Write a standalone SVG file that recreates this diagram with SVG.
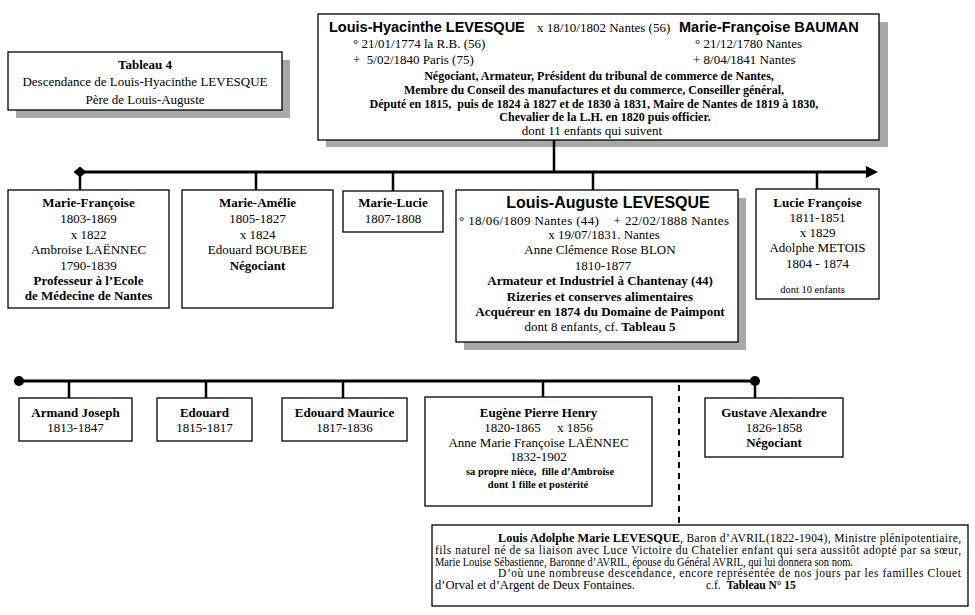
<svg xmlns="http://www.w3.org/2000/svg" width="975" height="615" viewBox="0 0 975 615">
<style>
.box{fill:#fff;stroke:#000;stroke-width:1.3}
.sh{fill:#a8a8a8}
.t{font-family:"Liberation Serif","Times New Roman",serif;font-size:13px;fill:#000;text-anchor:middle}
.l{text-anchor:start}
.b{font-weight:bold}
.m{font-size:12px}
.s{font-size:11.5px}
.xs{font-size:10.5px}
.a{font-family:"Liberation Sans",Arial,sans-serif;font-weight:bold;font-size:14.5px;fill:#000}
.ln{stroke:#000;stroke-width:3;fill:none}
.vl{stroke:#000;stroke-width:2.5;fill:none}
</style>
<rect width="975" height="615" fill="#fff"/>

<g id="title">
<rect class="sh" x="16" y="60" width="274" height="58"/>
<rect class="box" x="8" y="52" width="274" height="58"/>
<text class="t b" x="145" y="69">Tableau 4</text>
<text class="t" x="145" y="86">Descendance de Louis-Hyacinthe LEVESQUE</text>
<text class="t" x="145" y="104">Père de Louis-Auguste</text>
</g>

<g id="parents">
<rect class="sh" x="326" y="22" width="562" height="125"/>
<rect class="box" x="318" y="14" width="561" height="126"/>
<text class="a" x="329" y="32">Louis-Hyacinthe LEVESQUE</text>
<text class="t l" x="537" y="32">x 18/10/1802 Nantes (56)</text>
<text class="a" x="679" y="32">Marie-Françoise BAUMAN</text>
<text class="t l" x="353" y="48">° 21/01/1774 la R.B. (56)</text>
<text class="t l" x="695" y="48">° 21/12/1780 Nantes</text>
<text class="t l" x="353" y="64" xml:space="preserve">+  5/02/1840 Paris (75)</text>
<text class="t l" x="693" y="64">+ 8/04/1841 Nantes</text>
<text class="t b m" x="599" y="80">Négociant, Armateur, Président du tribunal de commerce de Nantes,</text>
<text class="t b m" x="594" y="94">Membre du Conseil des manufactures et du commerce, Conseiller général,</text>
<text class="t b m" x="594" y="108" xml:space="preserve">Député en 1815,  puis de 1824 à 1827 et de 1830 à 1831, Maire de Nantes de 1819 à 1830,</text>
<text class="t b m" x="605" y="121">Chevalier de la L.H. en 1820 puis officier.</text>
<text class="t" x="592" y="135">dont 11 enfants qui suivent</text>
</g>

<g id="connectors">
<line class="ln" x1="80" y1="172" x2="868" y2="172"/>
<polygon points="80,166.5 86.5,172 80,177.5 73.5,172" fill="#000"/>
<polygon points="866,166 878,172 866,178" fill="#000"/>
<line class="vl" x1="554" y1="140" x2="554" y2="172"/>
<line class="vl" x1="80" y1="172" x2="80" y2="190"/>
<line class="vl" x1="256" y1="172" x2="256" y2="190"/>
<line class="vl" x1="393" y1="172" x2="393" y2="191"/>
<line class="vl" x1="593" y1="172" x2="593" y2="190"/>
<line class="vl" x1="817" y1="172" x2="817" y2="189"/>
<line class="ln" x1="19" y1="381" x2="755" y2="381"/>
<circle cx="19" cy="381" r="5" fill="#000"/>
<circle cx="755" cy="381" r="5" fill="#000"/>
<line class="vl" x1="69" y1="381" x2="69" y2="398"/>
<line class="vl" x1="206" y1="381" x2="206" y2="398"/>
<line class="vl" x1="343" y1="381" x2="343" y2="398"/>
<line class="vl" x1="543" y1="381" x2="543" y2="397"/>
<line class="vl" x1="755" y1="381" x2="755" y2="398"/>
<line x1="679" y1="385" x2="679" y2="525" stroke="#000" stroke-width="2" stroke-dasharray="6,5"/>
</g>

<g id="marie-francoise">
<rect class="box" x="8" y="190" width="161" height="118"/>
<text class="t b" x="88.5" y="207">Marie-Françoise</text>
<text class="t" x="88.5" y="223">1803-1869</text>
<text class="t" x="88.5" y="239">x 1822</text>
<text class="t" x="88.5" y="254">Ambroise LAËNNEC</text>
<text class="t" x="88.5" y="270">1790-1839</text>
<text class="t b" x="88.5" y="285">Professeur à l’Ecole</text>
<text class="t b" x="88.5" y="300">de Médecine de Nantes</text>
</g>

<g id="marie-amelie">
<rect class="box" x="182" y="190" width="151" height="118"/>
<text class="t b" x="257.5" y="207">Marie-Amélie</text>
<text class="t" x="257.5" y="223">1805-1827</text>
<text class="t" x="257.5" y="239">x 1824</text>
<text class="t" x="257.5" y="254">Edouard BOUBEE</text>
<text class="t b" x="257.5" y="270">Négociant</text>
</g>

<g id="marie-lucie">
<rect class="box" x="343" y="191" width="100" height="41"/>
<text class="t b" x="393" y="207">Marie-Lucie</text>
<text class="t" x="393" y="223">1807-1808</text>
</g>

<g id="louis-auguste">
<rect class="sh" x="464" y="198" width="282" height="152"/>
<rect class="box" x="456" y="190" width="282" height="152"/>
<text class="a" x="608" y="208" text-anchor="middle" style="font-size:16px">Louis-Auguste LEVESQUE</text>
<text class="t" x="594" y="225" xml:space="preserve" textLength="270" lengthAdjust="spacing">° 18/06/1809 Nantes (44)    + 22/02/1888 Nantes</text>
<text class="t" x="604" y="239">x 19/07/1831. Nantes</text>
<text class="t" x="600" y="254">Anne Clémence Rose BLON</text>
<text class="t" x="603" y="270">1810-1877</text>
<text class="t b" x="600" y="285">Armateur et Industriel à Chantenay (44)</text>
<text class="t b" x="600" y="301">Rizeries et conserves alimentaires</text>
<text class="t b" x="600" y="316">Acquéreur en 1874 du Domaine de Paimpont</text>
<text class="t" x="600" y="331">dont 8 enfants, cf. <tspan class="b">Tableau 5</tspan></text>
</g>

<g id="lucie-francoise">
<rect class="box" x="756" y="189" width="123" height="110"/>
<text class="t b" x="817.5" y="207">Lucie Françoise</text>
<text class="t" x="817.5" y="222">1811-1851</text>
<text class="t" x="817.5" y="237">x 1829</text>
<text class="t" x="817.5" y="252">Adolphe METOIS</text>
<text class="t" x="817.5" y="268">1804 - 1874</text>
<text class="t" x="812.5" y="293" style="font-size:10.5px">dont 10 enfants</text>
</g>

<g id="armand-joseph">
<rect class="box" x="19" y="398" width="113" height="43"/>
<text class="t b" x="75.5" y="417">Armand Joseph</text>
<text class="t" x="75.5" y="432">1813-1847</text>
</g>

<g id="edouard">
<rect class="box" x="157" y="398" width="95" height="43"/>
<text class="t b" x="204.5" y="417">Edouard</text>
<text class="t" x="204.5" y="432">1815-1817</text>
</g>

<g id="edouard-maurice">
<rect class="box" x="282" y="398" width="125" height="43"/>
<text class="t b" x="344.5" y="417">Edouard Maurice</text>
<text class="t" x="344.5" y="432">1817-1836</text>
</g>

<g id="eugene">
<rect class="box" x="425" y="397" width="227" height="109"/>
<text class="t b" x="538.5" y="417">Eugène Pierre Henry</text>
<text class="t" x="538.5" y="432" xml:space="preserve">1820-1865     x 1856</text>
<text class="t" x="538.5" y="447">Anne Marie Françoise LAËNNEC</text>
<text class="t" x="538.5" y="461">1832-1902</text>
<text class="t b xs" x="540" y="475" xml:space="preserve">sa propre nièce,  fille d’Ambroise</text>
<text class="t b xs" x="538" y="488">dont 1 fille et postérité</text>
</g>

<g id="gustave">
<rect class="box" x="705" y="398" width="138" height="59"/>
<text class="t b" x="774" y="417">Gustave Alexandre</text>
<text class="t" x="774" y="432">1826-1858</text>
<text class="t b" x="774" y="447">Négociant</text>
</g>

<g id="louis-adolphe">
<rect class="box" x="432" y="525" width="536" height="81"/>
<text class="t l s b" x="498" y="542" textLength="182" lengthAdjust="spacingAndGlyphs">Louis Adolphe Marie LEVESQUE</text>
<text class="t l s" x="680" y="542" textLength="281" lengthAdjust="spacing">, Baron d’AVRIL(1822-1904), Ministre plénipotentiaire,</text>
<text class="t l s" x="435" y="554" textLength="526" lengthAdjust="spacing">fils naturel né de sa liaison avec Luce Victoire du Chatelier enfant qui sera aussitôt adopté par sa sœur,</text>
<text class="t l s" x="435" y="566" textLength="418" lengthAdjust="spacingAndGlyphs">Marie Louise Sébastienne, Baronne d’AVRIL, épouse du Général AVRIL, qui lui donnera son nom.</text>
<text class="t l s" x="498" y="577" textLength="463" lengthAdjust="spacing">D’où une nombreuse descendance, encore représentée de nos jours par les familles Clouet</text>
<text class="t l s" x="435" y="589" textLength="200" lengthAdjust="spacingAndGlyphs">d’Orval et d’Argent de Deux Fontaines.</text>
<text class="t l s" x="706" y="589" xml:space="preserve">c.f.  <tspan class="b">Tableau N° 15</tspan></text>
</g>
</svg>
